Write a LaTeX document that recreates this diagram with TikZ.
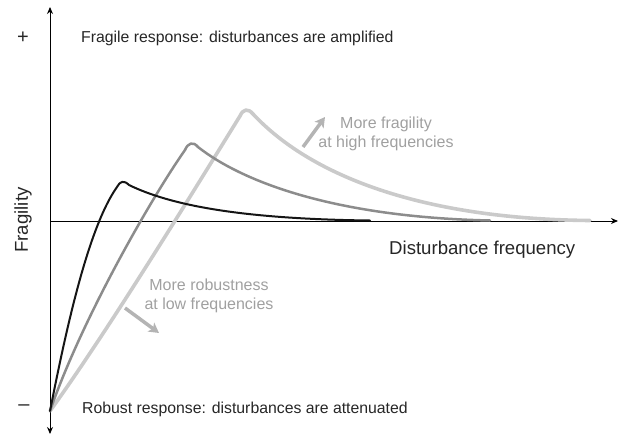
\documentclass[tikz,border=0pt]{standalone}
\usepackage{fontspec}
\setmainfont{Liberation Sans}
\usetikzlibrary{arrows.meta}
\definecolor{cblack}{HTML}{151515}
\definecolor{cmid}{HTML}{8C8C8C}
\definecolor{clight}{HTML}{CACACA}
\definecolor{ctext}{HTML}{A0A0A0}
\definecolor{carrow}{HTML}{B4B4B4}
\tikzset{
  axis/.style={draw=black, line width=1pt, -{Stealth[length=7pt,width=6pt]}},
  curveblack/.style={draw=cblack, line width=2pt, line join=round, line cap=round},
  curvemid/.style={draw=cmid, line width=2.5pt, line join=round, line cap=round},
  curvelight/.style={draw=clight, line width=3.6pt, line join=round, line cap=round},
  bigtext/.style={font=\fontsize{15.8}{18}\selectfont, text=black!85, inner sep=0pt},
  signtext/.style={font=\fontsize{20}{22}\selectfont, text=black!85, inner sep=0pt},
  axtext/.style={font=\fontsize{18.6}{20}\selectfont, text=black!85, inner sep=0pt},
  graytext/.style={font=\fontsize{16}{19}\selectfont, text=ctext, inner sep=0pt, align=center},
  grayarrow/.style={draw=carrow, line width=3.5pt, -{Stealth[length=10pt,width=11pt,inset=2.5pt]}}
}
\begin{document}
\begin{tikzpicture}[x=1pt,y=-1pt]
\useasboundingbox (0,0) rectangle (619,437);
% axes
\coordinate (origin) at (50,221);
\coordinate (ytop) at (50,7);
\coordinate (ybot) at (50,434);
\coordinate (xend) at (618,221);
\coordinate (start) at (50,411);
\draw[axis] (origin) -- (ytop);
\draw[axis] (origin) -- (ybot);
\draw[axis] (origin) -- (xend);
% curves
\draw[curvelight] (start) .. controls (105,335) and (185,205) .. (240,116)
  .. controls (243,109) and (248,108) .. (253,114)
  .. controls (310,175) and (420,219) .. (590,220.5);
\draw[curvemid] (start) .. controls (81.5,320) and (150,200) .. (185,150)
  .. controls (188,143) and (193,141) .. (198,147)
  .. controls (240,180) and (330,217) .. (490,220.5);
\draw[curveblack] (start) .. controls (66,330) and (88,228) .. (117,187)
  .. controls (120,181) and (124,180) .. (129,185)
  .. controls (170,205) and (240,219) .. (370,220.5);
% labels
\node[signtext] (plus) at (23,38) {+};
\node[signtext] (minus) at (24,408) {–};
\node[bigtext, anchor=west] (fragile) at (81,38) {Fragile response: disturbances are amplified};
\node[bigtext, anchor=west] (robust) at (82,409) {Robust response: disturbances are attenuated};
\node[axtext, rotate=90] (ylab) at (23,220) {Fragility};
\node[axtext, anchor=west] (xlab) at (389,250) {Disturbance frequency};
\node[graytext] (hf) at (386,134) {More fragility\\at high frequencies};
\node[graytext] (lf) at (209,296) {More robustness\\at low frequencies};
% gray arrows
\coordinate (a1s) at (303,147);
\coordinate (a1e) at (325,117);
\coordinate (a2s) at (125,308);
\coordinate (a2e) at (159,333);
\draw[grayarrow] (a1s) -- (a1e);
\draw[grayarrow] (a2s) -- (a2e);
\end{tikzpicture}
\end{document}
